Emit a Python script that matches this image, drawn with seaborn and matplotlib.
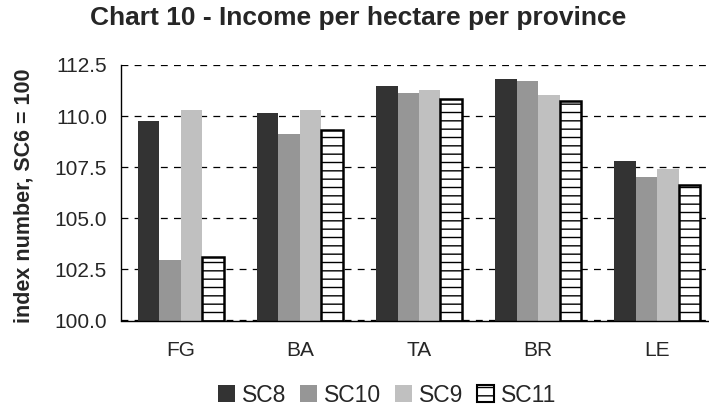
import numpy as np
import pandas as pd
import seaborn as sns
import matplotlib.pyplot as plt
from matplotlib.patches import Patch

provinces = ["FG", "BA", "TA", "BR", "LE"]
scenarios = ["SC8", "SC10", "SC9", "SC11"]
sc8 = [109.75, 110.15, 111.45, 111.8, 107.8]
sc10 = [102.95, 109.1, 111.15, 111.7, 107.0]
sc9 = [110.3, 110.3, 111.3, 111.05, 107.4]
sc11 = [103.1, 109.3, 110.85, 110.75, 106.65]
colors = ["#333333", "#969696", "#c0c0c0", "white"]

sns.set_style("white")
plt.rcParams['font.family'] = ['Liberation Sans', 'DejaVu Sans']
plt.rcParams['hatch.linewidth'] = 1.0

df = pd.DataFrame({
    'province': provinces * 4,
    'scenario': np.repeat(scenarios, len(provinces)),
    'value': sc8 + sc10 + sc9 + sc11,
})

fig = plt.figure(figsize=(7.09, 4.08), dpi=100)
ax = fig.add_axes([121 / 709, 1 - 320.5 / 408, 596 / 709, (320.5 - 65) / 408])

sns.barplot(data=df, x='province', y='value', hue='scenario', hue_order=scenarios,
            order=provinces, palette=colors, saturation=1, width=0.72, ax=ax,
            linewidth=0, legend=False)

# last series: white with horizontal stripes and black border
for bar in ax.containers[3]:
    bar.set_hatch('--')
    bar.set_edgecolor('black')
    bar.set_linewidth(1.8)

ax.set_ylim(100, 112.5)
ax.set_xlim(-0.5, 4.5)
ax.set_yticks([100, 102.5, 105, 107.5, 110, 112.5])
ax.set_yticklabels(['100.0', '102.5', '105.0', '107.5', '110.0', '112.5'])
ax.yaxis.grid(True, color='black', linewidth=0.9, linestyle=(0, (5.5, 5)))
ax.set_axisbelow(True)

ax.set_xticks(range(len(provinces)))
ax.set_xticks(np.arange(-0.5, 5, 1), minor=True)
ax.tick_params(axis='x', which='major', length=0, labelsize=15, pad=15)
ax.tick_params(axis='x', which='minor', length=6, width=1, direction='out', color='black')
ax.tick_params(axis='y', direction='inout', length=8, width=1, labelsize=15, pad=6, color='black')

ax.set_xlabel('')
ax.set_ylabel('')
for s in ['top', 'right']:
    ax.spines[s].set_visible(False)
for s in ['left', 'bottom']:
    ax.spines[s].set_color('black')
    ax.spines[s].set_linewidth(1)

fig.text(24 / 709, 1 - 196 / 408, 'index number, SC6 = 100', rotation=90,
         ha='center', va='center', fontsize=15.5, fontweight='bold')
fig.text(358 / 709, 1 - 18 / 408, 'Chart 10 - Income per hectare per province',
         ha='center', va='center', fontsize=19, fontweight='bold')

handles = [Patch(facecolor=colors[0], edgecolor='none'),
           Patch(facecolor=colors[1], edgecolor='none'),
           Patch(facecolor=colors[2], edgecolor='none'),
           Patch(facecolor='white', edgecolor='black', hatch='--', linewidth=1.5)]
fig.legend(handles, scenarios, loc='center', bbox_to_anchor=(387 / 709, 1 - 395 / 408),
           ncol=4, frameon=False, fontsize=16.5, handlelength=0.74, handleheight=0.74,
           handletextpad=0.3, columnspacing=0.6, borderaxespad=0, borderpad=0)

fig.savefig('out.png', dpi=100)
